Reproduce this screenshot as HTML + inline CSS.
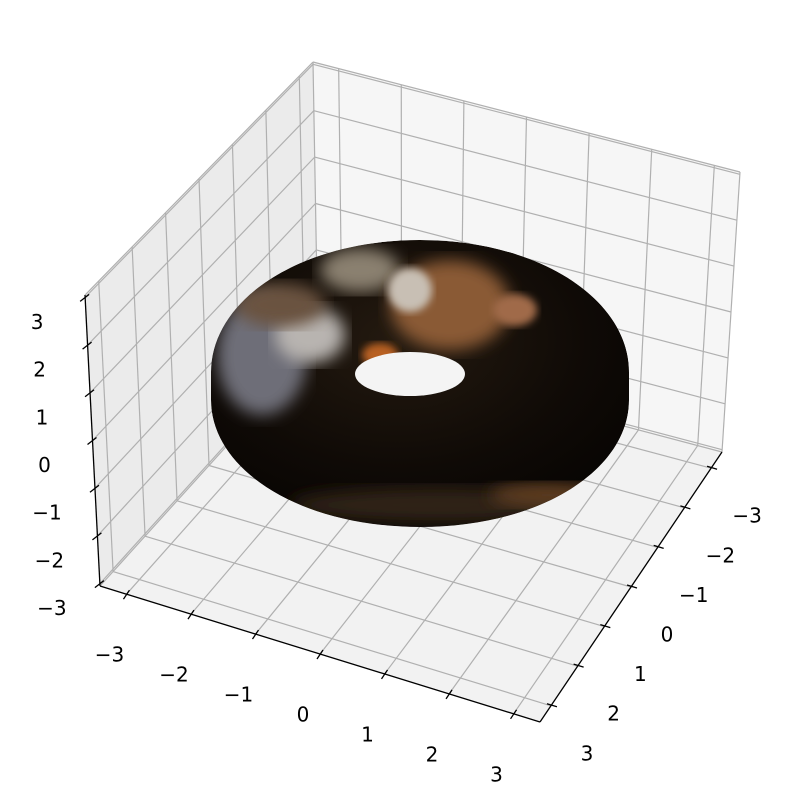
<!DOCTYPE html>
<html><head><meta charset="utf-8"><style>
body{margin:0;background:#fff}
svg{display:block}
text{font-family:"DejaVu Sans","Liberation Sans",sans-serif;font-size:20px;fill:#000}
</style></head><body>
<svg id="chart" width="799" height="810" viewBox="0 0 799 810" xmlns="http://www.w3.org/2000/svg">
<defs>
<radialGradient id="gBody" cx="0.45" cy="0.35" r="0.75">
<stop offset="0" stop-color="#241a10"/><stop offset="0.6" stop-color="#0f0a06"/><stop offset="1" stop-color="#050302"/>
</radialGradient>
<filter id="blur8"><feGaussianBlur stdDeviation="8"/></filter>
<filter id="blur4"><feGaussianBlur stdDeviation="4"/></filter>
<clipPath id="torusClip"><path id="tp" d=""/></clipPath>
</defs>
<g id="panes"></g>
<g id="grid"></g>
<g id="torus"></g>
<g id="axes"></g>
</svg>
<script>
const xTicks=[-3,-2,-1,0,1,2,3];
const yTicks=[-3,-2,-1,0,1,2,3];
const zTicks=[-3,-2,-1,0,1,2,3];
const xLabels=["−3","−2","−1","0","1","2","3"];
const yLabels=["−3","−2","−1","0","1","2","3"];
const zLabels=["−3","−2","−1","0","1","2","3"];
const LX=3.41, LY=3.41, LZ=3.05;
const NS="http://www.w3.org/2000/svg";
const A=[100,586],B=[540,722],C=[722,452],D=[318,345];
const A2=[85,295],B2=[548,430],C2=[740,172],D2=[313,62];
function lerp(p,q,t){return [p[0]+(q[0]-p[0])*t,p[1]+(q[1]-p[1])*t];}
function proj(x,y,z){
 const u=(x+LX)/(2*LX), v=(y+LY)/(2*LY), w=(z+LZ)/(2*LZ);
 const b=lerp(lerp(D,C,u),lerp(A,B,u),v);
 const t=lerp(lerp(D2,C2,u),lerp(A2,B2,u),v);
 return lerp(b,t,w);
}
function el(tag,attrs,parent){const e=document.createElementNS(NS,tag);for(const k in attrs)e.setAttribute(k,attrs[k]);parent.appendChild(e);return e;}
function poly(pts){return pts.map(p=>p[0].toFixed(1)+","+p[1].toFixed(1)).join(" ");}
const panes=document.getElementById('panes');
let p1=el('polygon',{points:poly([proj(-LX,-LY,-LZ),proj(-LX,LY,-LZ),proj(-LX,LY,LZ),proj(-LX,-LY,LZ)]),fill:'#ebebeb'},panes);


let p2=el('polygon',{points:poly([proj(-LX,-LY,-LZ),proj(LX,-LY,-LZ),proj(LX,-LY,LZ),proj(-LX,-LY,LZ)]),fill:'#f6f6f6'},panes);


let p3=el('polygon',{points:poly([proj(-LX,-LY,-LZ),proj(LX,-LY,-LZ),proj(LX,LY,-LZ),proj(-LX,LY,-LZ)]),fill:'#f2f2f2'},panes);


const grid=document.getElementById('grid');
function gl(a,b,name){const l=el('line',{x1:a[0],y1:a[1],x2:b[0],y2:b[1],stroke:'#b0b0b0','stroke-width':1.2},grid);

}
xTicks.forEach(x=>{gl(proj(x,-LY,-LZ),proj(x,LY,-LZ),'floor-gridline-x');gl(proj(x,-LY,-LZ),proj(x,-LY,LZ),'back-gridline-x');});
yTicks.forEach(y=>{gl(proj(-LX,y,-LZ),proj(LX,y,-LZ),'floor-gridline-y');gl(proj(-LX,y,-LZ),proj(-LX,y,LZ),'left-gridline-y');});
zTicks.forEach(z=>{gl(proj(-LX,-LY,z),proj(LX,-LY,z),'back-gridline-z');gl(proj(-LX,-LY,z),proj(-LX,LY,z),'left-gridline-z');});
[[proj(-LX,-LY,-LZ),proj(-LX,-LY,LZ)],[proj(-LX,-LY,LZ),proj(LX,-LY,LZ)],[proj(-LX,-LY,LZ),proj(-LX,LY,LZ)],[proj(LX,-LY,-LZ),proj(LX,-LY,LZ)],[proj(-LX,-LY,-LZ),proj(LX,-LY,-LZ)],[proj(-LX,-LY,-LZ),proj(-LX,LY,-LZ)]].forEach(s=>gl(s[0],s[1],'pane-edge'));
const tg=document.getElementById('torus');
const tpath="M211,372 C211,300 300,240 420,240 C540,240 629,300 629,372 L629,400 C629,470 540,527 420,527 C300,527 211,470 211,400 Z";
document.getElementById('tp').setAttribute('d',tpath);
const g2=el('g',{'clip-path':'url(#torusClip)'},tg);
el('path',{d:tpath,fill:'url(#gBody)'},g2);
el('ellipse',{cx:262,cy:355,rx:45,ry:60,fill:'#6e6e78',filter:'url(#blur8)'},g2);
el('ellipse',{cx:310,cy:335,rx:35,ry:28,fill:'#b8b4b0',filter:'url(#blur8)'},g2);
el('ellipse',{cx:280,cy:305,rx:45,ry:22,fill:'#6a5240',filter:'url(#blur8)'},g2);
el('ellipse',{cx:360,cy:270,rx:40,ry:22,fill:'#8a8070',filter:'url(#blur8)'},g2);
el('ellipse',{cx:450,cy:305,rx:60,ry:45,fill:'#8a5a34',filter:'url(#blur8)'},g2);
el('ellipse',{cx:410,cy:290,rx:22,ry:22,fill:'#c8bfb4',filter:'url(#blur4)'},g2);
el('ellipse',{cx:515,cy:310,rx:22,ry:16,fill:'#a06a48',filter:'url(#blur4)'},g2);
el('ellipse',{cx:380,cy:355,rx:18,ry:12,fill:'#b86020',filter:'url(#blur4)'},g2);
el('ellipse',{cx:440,cy:505,rx:150,ry:18,fill:'#2e2216',filter:'url(#blur8)'},g2);
el('ellipse',{cx:550,cy:495,rx:60,ry:12,fill:'#5e3e24',filter:'url(#blur8)'},g2);
const hole=el('ellipse',{cx:410,cy:374,rx:55,ry:22,fill:'#f4f4f4'},tg);


const ax=document.getElementById('axes');
function line(a,b,name,w){const l=el('line',{x1:a[0],y1:a[1],x2:b[0],y2:b[1],stroke:'#000','stroke-width':w||1.3},ax);

return l;}
line(proj(-LX,LY,-LZ),proj(LX,LY,-LZ),'x-axis-line');
line(proj(LX,LY,-LZ),proj(LX,-LY,-LZ),'y-axis-line');
line(proj(-LX,LY,-LZ),proj(-LX,LY,LZ),'z-axis-line');
function label(p,s,name){const t=el('text',{x:p[0],y:p[1],'text-anchor':'middle','dominant-baseline':'middle'},ax);t.textContent=s;

}
xTicks.forEach((x,i)=>{const p=proj(x,LY,-LZ);line([p[0]+3,p[1]-4],[p[0]-3,p[1]+5],'x-tick');label([p[0]-17,p[1]+62],xLabels[i],'x-tick-label');});
yTicks.forEach((y,i)=>{const p=proj(LX,y,-LZ);line([p[0]-4,p[1]-2],[p[0]+6,p[1]+1],'y-tick');label([p[0]+36,p[1]+49],yLabels[i],'y-tick-label');});
zTicks.forEach((z,i)=>{const p=proj(-LX,LY,z);line([p[0]+4,p[1]-3],[p[0]-5,p[1]+4],'z-tick');label([p[0]-48,p[1]+26],zLabels[i],'z-tick-label');});
</script>
</body></html>
